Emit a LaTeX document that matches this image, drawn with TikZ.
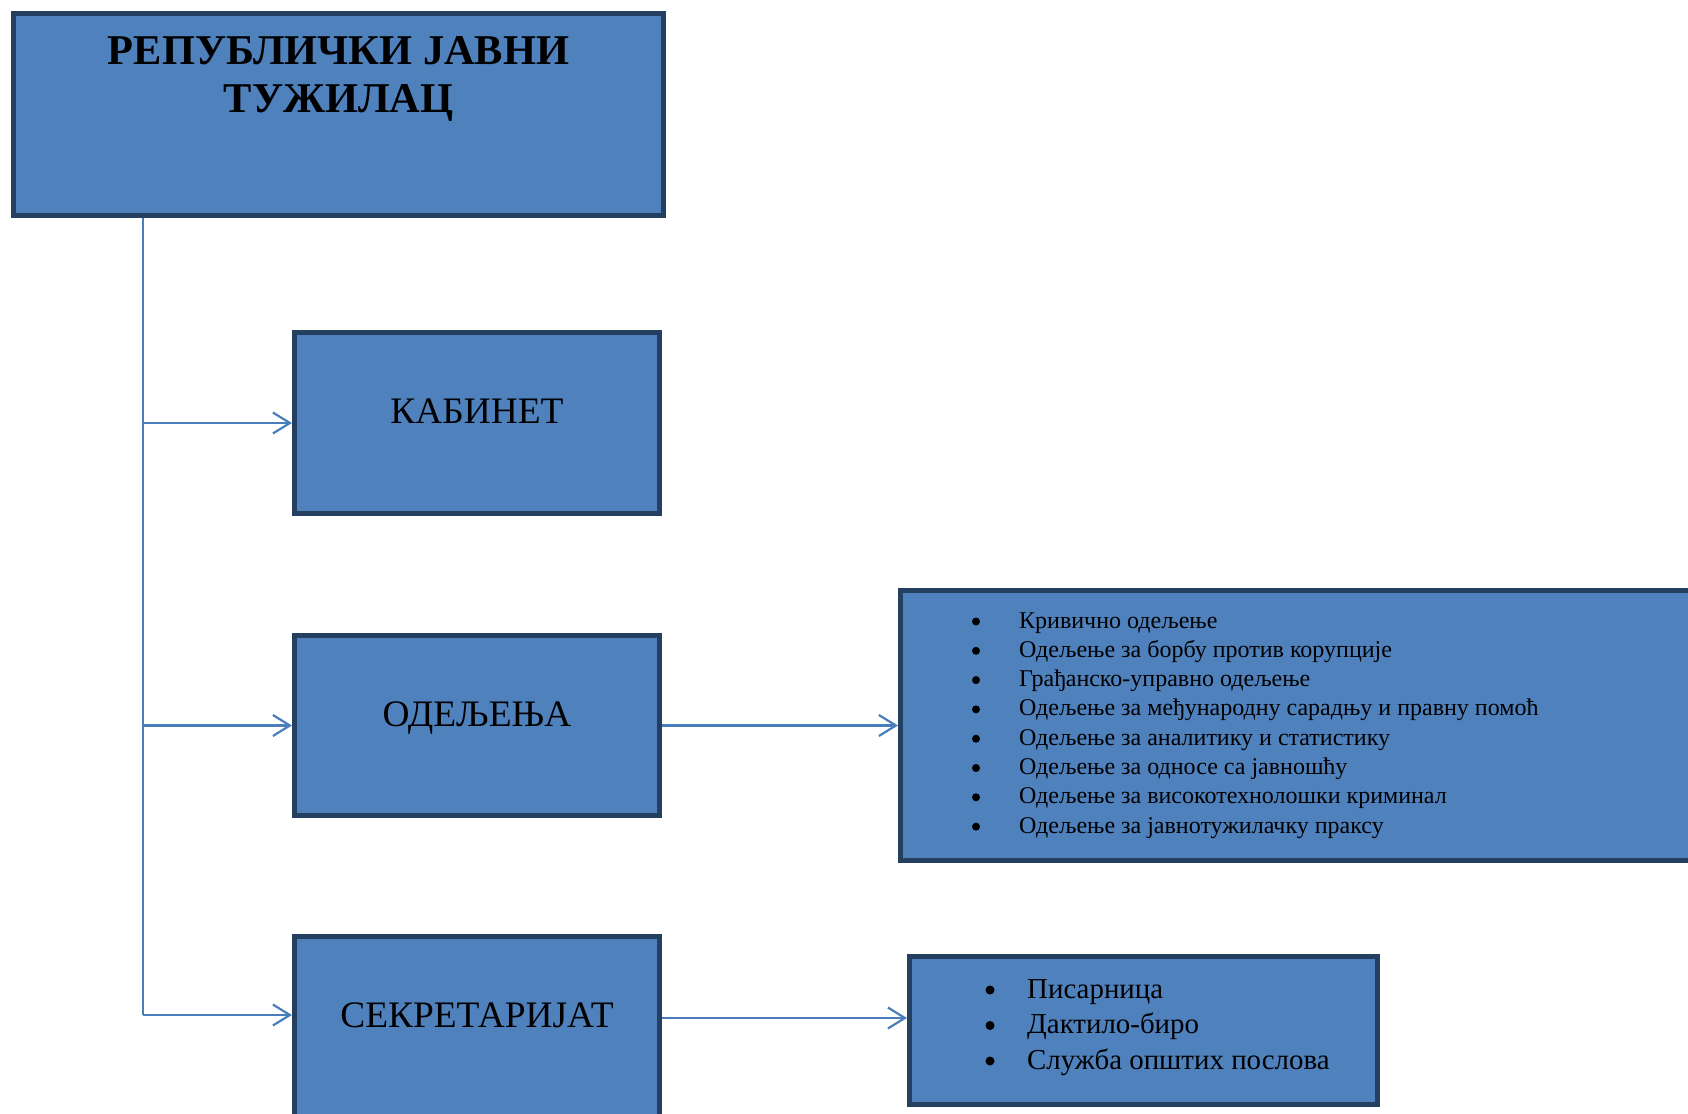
\documentclass[tikz,border=0pt]{standalone}
\usepackage{fontspec}
\setmainfont{Liberation Serif}
\usetikzlibrary{arrows.meta}
\definecolor{boxfill}{HTML}{4F81BD}
\definecolor{boxline}{HTML}{243F60}
\definecolor{conn}{HTML}{4A7EBB}
\tikzset{
  box/.style={draw=boxline, fill=boxfill, line width=5pt, inner sep=0pt, anchor=north west},
  conline/.style={draw=conn, line width=2.2pt},
  arr/.style={conline, -{Straight Barb[length=17pt,width=21pt]}},
  titletxt/.style={font=\fontsize{42.4}{48}\selectfont\bfseries, anchor=base, inner sep=0pt},
  unittxt/.style={font=\fontsize{37.4}{44}\selectfont, anchor=base, inner sep=0pt},
  itemA/.style={font=\fontsize{24}{29}\selectfont, anchor=base west, inner sep=0pt},
  itemB/.style={font=\fontsize{28.9}{34}\selectfont, anchor=base west, inner sep=0pt},
  bulA/.style={circle, fill=black, minimum size=8pt, inner sep=0pt},
  bulB/.style={circle, fill=black, minimum size=9pt, inner sep=0pt},
}
\begin{document}
\begin{tikzpicture}[x=1pt,y=-1pt]
\useasboundingbox (0,0) rectangle (1688,1113);
\clip (0,0) rectangle (1688,1113);
\fill[white] (0,0) rectangle (1688,1113);

% boxes
\node[box, minimum width=650pt, minimum height=202pt] (top) at (11,11) {};
\node[box, minimum width=365pt, minimum height=181pt] (kab) at (292,330) {};
\node[box, minimum width=365pt, minimum height=180pt] (odj) at (292,633) {};
\node[box, minimum width=365pt, minimum height=191pt] (sek) at (292,934) {};
\node[box, minimum width=807pt, minimum height=270pt] (lst1) at (898,588) {};
\node[box, minimum width=468pt, minimum height=148pt] (lst2) at (907,954) {};

% texts
\node[titletxt] (t1) at (338.5,65) {РЕПУБЛИЧКИ ЈАВНИ};
\node[titletxt] (t2) at (338.5,113) {ТУЖИЛАЦ};
\node[unittxt] (kabt) at (477,423) {КАБИНЕТ};
\node[unittxt] (odjt) at (477,726) {ОДЕЉЕЊА};
\node[unittxt] (sekt) at (477,1027) {СЕКРЕТАРИЈАТ};

\foreach \t [count=\i from 0] in {Кривично одељење,
  Одељење за борбу против корупције,
  Грађанско-управно одељење,
  Одељење за међународну сарадњу и правну помоћ,
  Одељење за аналитику и статистику,
  Одељење за односе са јавношћу,
  Одељење за високотехнолошки криминал,
  Одељење за јавнотужилачку праксу}{
  \node[bulA] (b1-\i) at (976,621.5+29.3*\i) {};
  \node[itemA] (i1-\i) at (1019,628+29.3*\i) {\t};
}
\foreach \t [count=\i from 0] in {Писарница, Дактило-биро, Служба општих послова}{
  \node[bulB] (b2-\i) at (990,990+35.5*\i) {};
  \node[itemB] (i2-\i) at (1027,998+35.5*\i) {\t};
}

% connectors
\coordinate (t0) at (143,218);
\coordinate (c1) at (143,423);
\coordinate (c2) at (143,725.5);
\coordinate (c3) at (143,1015);
\draw[conline] (t0) -- (c3);
\draw[arr] (c1) -- (c1 -| kab.west);
\draw[arr] (c2) -- (c2 -| odj.west);
\draw[arr] (c3) -- (c3 -| sek.west);
\draw[arr] (odj.east) -- (odj.east -| lst1.west);
\coordinate (s1) at (662,1018);
\draw[arr] (s1) -- (s1 -| lst2.west);
\end{tikzpicture}
\end{document}
